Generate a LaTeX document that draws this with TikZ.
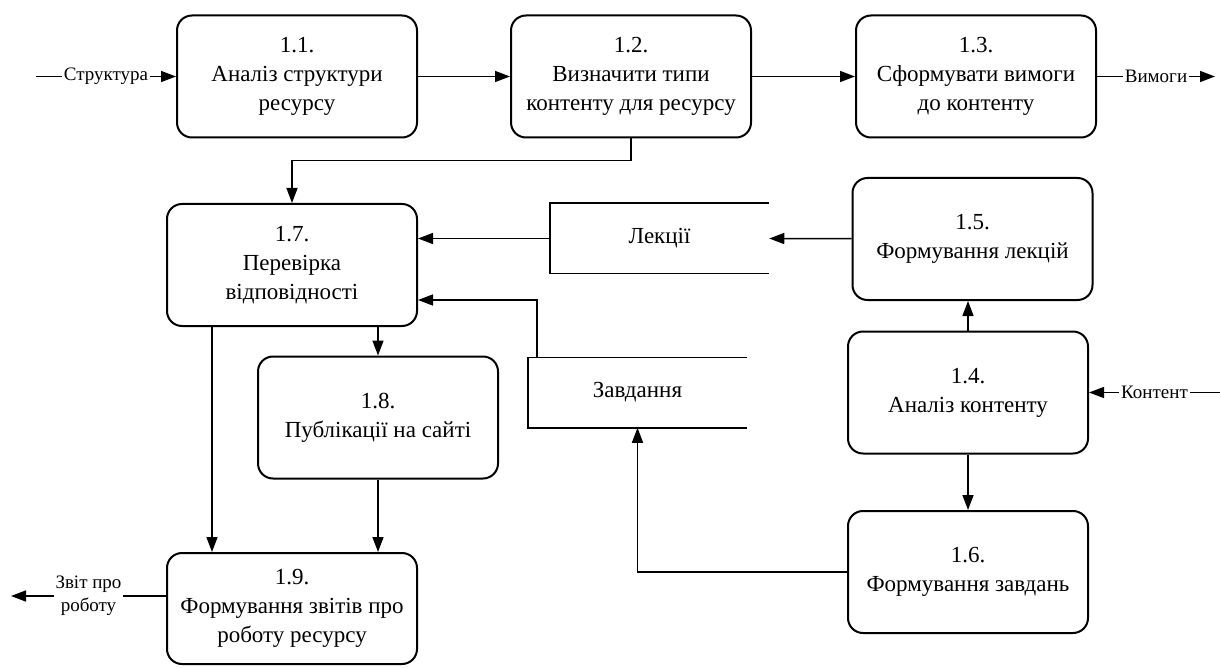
\documentclass[tikz,border=0pt]{standalone}
\usepackage{fontspec}
\setmainfont{Liberation Serif}
\usetikzlibrary{arrows.meta,positioning}
\begin{document}
\begin{tikzpicture}[
  x=0.5pt, y=-0.5pt,
  proc/.style={rectangle, draw, rounded corners=7.5pt, line width=1pt, minimum width=120pt, minimum height=61pt, align=center, inner sep=2pt, font=\fontsize{11.5}{14.5}\selectfont},
  store/.style={rectangle, minimum width=109pt, minimum height=34.5pt, font=\fontsize{11.5}{14.5}\selectfont},
  flow/.style={fill=white, inner sep=1pt, align=center, font=\fontsize{9.5}{11.5}\selectfont},
  >={Triangle[length=7.5pt,width=5.5pt]},
  line width=0.75pt
]
\useasboundingbox (0,0) rectangle (1220,668);

\node[proc] (n11) at (297,76.5) {1.1.\\Аналіз структури\\ресурсу};
\node[proc, right of=n11, node distance=167pt] (n12) {1.2.\\Визначити типи\\контенту для ресурсу};
\node[proc, right of=n12, node distance=172.5pt] (n13) {1.3.\\Сформувати вимоги\\до контенту};
\node[proc, minimum width=125pt] (n17) at (292,265) {1.7.\\Перевірка\\відповідності};
\node[proc, below of=n17, node distance=76.25pt, xshift=43pt] (n18) {1.8.\\Публікації на сайті};
\node[proc, below of=n17, node distance=171.75pt, minimum width=125pt, minimum height=55.5pt] (n19) {1.9.\\Формування звітів про\\роботу ресурсу};
\node[proc] (n15) at (972.5,239) {1.5.\\Формування лекцій};
\node[proc, below of=n15, node distance=76.75pt, xshift=-2.25pt] (n14) {1.4.\\Аналіз контенту};
\node[proc, below of=n14, node distance=89.75pt] (n16) {1.6.\\Формування завдань};
\node[store] (lek) at (659.5,238.5) {Лекції};
\node[store] (zav) at (637.5,392.5) {Завдання};

\coordinate (sin) at (36,76.5);
\coordinate (vout) at (1215,76.5);
\coordinate (kin) at (1220,392.5);
\coordinate (zout) at (11,596);

\draw (lek.north east) -- (lek.north west) -- (lek.south west) -- (lek.south east);
\draw (zav.north east) -- (zav.north west) -- (zav.south west) -- (zav.south east);

\draw[->] (sin) -- node[flow] {Структура} (n11);
\draw[->] (n11) -- (n12);
\draw[->] (n12) -- (n13);
\draw[->] (n13) -- node[flow] {Вимоги} (vout);
\draw[->] (n12.south) -- ++(0,22) -| (n17.north);
\draw[->] (lek.west) -- (lek.west -| n17.east);
\draw[->] ([xshift=4.5pt]zav.north west) |- ([yshift=-17.5pt]n17.east);
\draw[->] (n17.south -| n18.north) -- (n18.north);
\draw[->] ([xshift=23pt]n17.south west) -- ([xshift=23pt]n19.north west);
\draw[->] (n18) -- (n18.south |- n19.north);
\draw[->] ([yshift=6.25pt]n19.west) -- node[flow] {Звіт про\\роботу} (zout);
\draw[->] (n15) -- (lek.east);
\draw[->] (n14) -- (n14.north |- n15.south);
\draw[->] (n14) -- (n16);
\draw[->] (kin) -- node[flow] {Контент} (n14);
\draw[->] (n16) -| (zav.south);
\end{tikzpicture}
\end{document}
